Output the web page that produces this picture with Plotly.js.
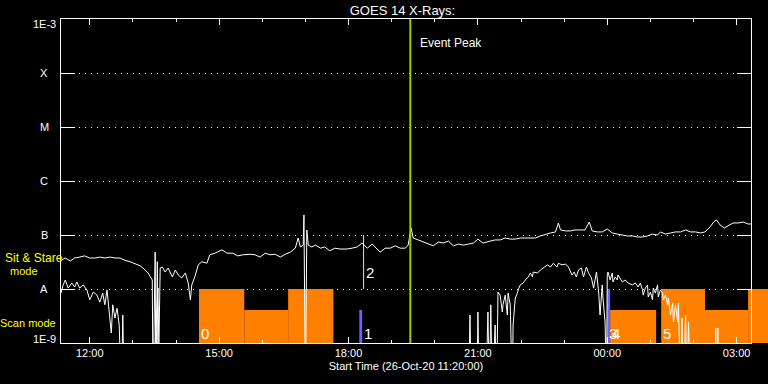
<!DOCTYPE html>
<html><head><meta charset="utf-8">
<script src="https://cdn.plot.ly/plotly-3.0.1.min.js"></script>
<style>html,body{margin:0;padding:0;background:#000;} #chart{width:768px;height:384px;}</style>
</head><body><div id="chart"></div>
<script>
// time axis: minutes after 26-Oct-2020 11:20:00
const START = Date.UTC(2020, 9, 26, 11, 20);
const RANGE_MIN = [0, 960];

// GOES 14 long channel (1-8 A), W/m^2
const longT = [0,6,13,19,26,33,40,47,54,61,68,75,82,89,96,103,110,117,121,127,128,131,132,134,135,138,141,145,149,155,159,163,168,173,177,180,182,187,191,196,203,207,214,224,231,239,246,253,263,270,277,284,291,298,305,312,319,326,330,333,337,338,340,342,344,349,354,361,367,374,381,388,398,405,412,419,426,433,440,444,451,458,465,472,479,483,487,490,497,504,511,518,525,532,539,546,553,560,567,574,580,587,597,604,611,618,625,632,639,646,653,660,667,674,681,688,692,695,702,709,715,722,729,735,739,746,753,760,767,774,781,788,795,802,809,816,823,830,834,841,848,855,862,869,876,883,890,896,903,908,912,917,923,928,935,942,949,956,960];
const longF = [3.4e-8,3.75e-8,3.3e-8,3.75e-8,3.9e-8,4.1e-8,3.75e-8,3.75e-8,3.9e-8,3.75e-8,3.9e-8,3.75e-8,3.75e-8,3.4e-8,3.2e-8,2.9e-8,2.7e-8,2.25e-8,1.98e-8,1.47e-8,1e-10,4.8e-8,1e-10,3.2e-8,1e-10,2.45e-8,2.55e-8,2.06e-8,2.45e-8,1.67e-8,2.25e-8,1.82e-8,1.6e-8,1.98e-8,1.29e-8,6.3e-9,1.19e-8,1.82e-8,2.8e-8,3.2e-8,3.0e-8,4.3e-8,4.6e-8,5.3e-8,4.6e-8,4.6e-8,4.1e-8,4.3e-8,4.4e-8,4.3e-8,3.9e-8,4.6e-8,4.3e-8,4.4e-8,3.9e-8,4.4e-8,4.8e-8,5.7e-8,8.8e-8,6.0e-8,6.5e-8,2.35e-7,1e-10,1.24e-7,6.5e-8,6.0e-8,6.5e-8,5.7e-8,6.0e-8,5.1e-8,5.7e-8,5.5e-8,5.5e-8,5.7e-8,6.0e-8,7.1e-8,5.7e-8,6.8e-8,5.3e-8,4.8e-8,5.7e-8,5.7e-8,6.3e-8,5.7e-8,5.7e-8,6.5e-8,1.35e-7,8.8e-8,8.1e-8,7.4e-8,6.8e-8,6.3e-8,7.4e-8,7.1e-8,7.7e-8,6.3e-8,6.8e-8,6.5e-8,6.8e-8,7.1e-8,8.4e-8,7.1e-8,7.7e-8,8.1e-8,8.1e-8,8.8e-8,8.4e-8,8.4e-8,8.8e-8,8.8e-8,8.8e-8,8.8e-8,9.6e-8,1.04e-7,1.09e-7,1.14e-7,1.67e-7,1.24e-7,1.19e-7,1.19e-7,1.24e-7,1.24e-7,1.24e-7,1.74e-7,1.19e-7,1.14e-7,1.14e-7,1.29e-7,1.09e-7,1.04e-7,1.0e-7,9.6e-8,9.6e-8,9.2e-8,9.2e-8,9.6e-8,1.04e-7,1.0e-7,1.14e-7,1.04e-7,1.09e-7,1.14e-7,1.14e-7,1.24e-7,1.14e-7,1.14e-7,1.09e-7,1.14e-7,1.41e-7,1.74e-7,1.9e-7,1.53e-7,1.35e-7,1.47e-7,1.67e-7,1.67e-7,1.74e-7,1.6e-7,1.6e-7];

// GOES 14 short channel (0.5-4 A), W/m^2 (1e-10 = below plot floor)
const shortT = [0,3,6,10,15,19,22,26,31,36,40,45,50,54,58,61,64,67,70,72,75,78,81,84,86,88,127,135,137,567,569,571,579,580,582,591,594,596,598,600,604,606,608,611,614,615,618,621,622,625,628,629,632,635,636,639,643,646,650,653,656,657,663,667,671,677,681,685,690,692,697,702,706,711,714,717,720,724,727,731,734,738,741,745,748,750,753,754,757,759,760,761,764,767,768,771,774,775,781,785,789,795,799,803,806,809,810,813,816,817,820,823,824,827,830,831,834,837,838,841,844,845,848,851,852,855,858,859,862,864,866,869,871,873,876,909,911,912,914,915,960];
const shortF = [8.4e-9,1.19e-8,1.47e-8,1.04e-8,1.29e-8,1.09e-8,1.35e-8,1.04e-8,1.19e-8,9.6e-9,6.3e-9,8.8e-9,7.7e-9,5.7e-9,8.4e-9,5.1e-9,9.6e-9,3.3e-9,1.53e-9,5.1e-9,2.9e-9,4.4e-9,2.15e-9,1e-10,3.3e-9,1e-10,1e-10,1.04e-8,1e-10,1e-10,3.3e-9,1e-10,1e-10,3.75e-9,1e-10,1e-10,3.75e-9,1e-10,5.1e-9,1e-10,2.15e-9,1e-10,8.8e-9,7.7e-9,3.75e-9,5.1e-9,7.7e-9,3.3e-9,8.4e-9,5.1e-9,1e-10,2.15e-9,6.8e-9,8.4e-9,9.6e-9,1.19e-8,1.29e-8,1.47e-8,1.67e-8,1.98e-8,1.67e-8,2.06e-8,1.98e-8,2.25e-8,2.45e-8,2.8e-8,2.55e-8,3.0e-8,2.55e-8,3.0e-8,2.8e-8,2.9e-8,2.55e-8,1.82e-8,2.06e-8,1.67e-8,2.25e-8,2.45e-8,1.67e-8,2.55e-8,1.98e-8,1.6e-8,1.04e-8,2.06e-8,8.8e-9,3.3e-9,1.19e-8,6.8e-9,2.45e-9,1e-10,1.82e-8,2.06e-8,1.47e-8,1.98e-8,1.35e-8,1.67e-8,1.47e-8,1.82e-8,1.35e-8,1.47e-8,1.29e-8,1.19e-8,1.29e-8,1.09e-8,1.29e-8,9.6e-9,7.7e-9,1.04e-8,1.19e-8,7.1e-9,8.8e-9,6.3e-9,1.04e-8,8.4e-9,1.19e-8,7.1e-9,9.6e-9,8.4e-9,6.3e-9,7.7e-9,5.1e-9,6.8e-9,3.3e-9,5.5e-9,2.45e-9,5.1e-9,2.45e-9,5.5e-9,1e-10,2.9e-9,1e-10,3.3e-9,1e-10,2.45e-9,1e-10,1e-10,1.9e-9,1e-10,1.9e-9,1e-10,1e-10];

// scan mode blocks (minutes), their top level
const scanStart = [192, 255, 316, 764, 835, 896, 956];
const scanEnd   = [255, 316, 379, 828, 896, 956, 984];
const scanTop   = [1e-8, 4.1e-9, 1e-8, 4.1e-9, 1e-8, 4.1e-9, 1e-8];
// blue markers
const blueStart = [415, 760];
const blueEnd   = [419, 764];
const blueTop   = [4.1e-9, 1e-8];
// event peak and event 2 marker
const peakT = 486;
const event2T = 421;
const event2Span = [1e-8, 1e-7];
// event number labels
const eventLabels = ['0', '1', '2', '3', '4', '5'];
const eventLabelT = [192, 419, 421, 760, 764, 835];
const eventLabelF = [1.53e-9, 1.53e-9, 2.06e-8, 1.53e-9, 1.53e-9, 1.53e-9];
// y axis levels
const yTickVals = [1e-9, 1e-8, 1e-7, 1e-6, 1e-5, 1e-4, 1e-3];
const yTickText = ['1E-9', 'A', 'B', 'C', 'M', 'X', '1E-3'];

const fmt = m => new Date(START + m * 60000).toISOString().slice(0, 19).replace('T', ' ');
const FONT = 'Liberation Sans, Arial, sans-serif';
const ORANGE = '#ff8000', BLUE = '#6464ff', GREEN = '#99cc00', YELLOW = '#ffff00';

const traces = [];
for (let i = 0; i < scanStart.length; i++) {
  const a = fmt(scanStart[i]), b = fmt(scanEnd[i]);
  traces.push({x: [a, b, b, a, a], y: [1e-9, 1e-9, scanTop[i], scanTop[i], 1e-9],
    mode: 'lines', fill: 'toself', fillcolor: ORANGE, line: {width: 0, color: ORANGE}, hoverinfo: 'skip'});
}
for (let i = 0; i < blueStart.length; i++) {
  const a = fmt(blueStart[i]), b = fmt(blueEnd[i]);
  traces.push({x: [a, b, b, a, a], y: [1e-9, 1e-9, blueTop[i], blueTop[i], 1e-9],
    mode: 'lines', fill: 'toself', fillcolor: BLUE, line: {width: 0, color: BLUE}, hoverinfo: 'skip'});
}
traces.push({x: [fmt(event2T), fmt(event2T)], y: event2Span, mode: 'lines', line: {color: YELLOW, width: 1}});
traces.push({x: longT.map(fmt), y: longF, mode: 'lines', line: {color: '#fff', width: 1}});
traces.push({x: shortT.map(fmt), y: shortF, mode: 'lines', line: {color: '#fff', width: 1}});
traces.push({x: [fmt(peakT), fmt(peakT)], y: [1e-9, 1e-3], mode: 'lines', line: {color: GREEN, width: 2}});

// part of a scan block that runs past the right edge of the axis
const span = RANGE_MIN[1] - RANGE_MIN[0];
const shapes = [];
for (let i = 0; i < scanStart.length; i++) {
  if (scanEnd[i] > RANGE_MIN[1]) {
    shapes.push({type: 'rect', layer: 'below', xref: 'paper', yref: 'y',
      x0: (Math.max(scanStart[i], RANGE_MIN[1]) - RANGE_MIN[0]) / span,
      x1: (scanEnd[i] - RANGE_MIN[0]) / span,
      y0: 1e-9, y1: scanTop[i], fillcolor: ORANGE, line: {width: 0}});
  }
}

const annotations = [];
yTickVals.forEach((v, i) => {
  const last = yTickVals.length - 1;
  annotations.push({xref: 'paper', yref: 'y', x: -0.0246, y: Math.log10(v), text: yTickText[i],
    xanchor: 'center', yanchor: i === 0 ? 'bottom' : (i === last ? 'top' : 'middle'),
    yshift: i === 0 ? -4 : (i === last ? 3 : 0),
    showarrow: false, font: {family: FONT, size: 11, color: '#fff'}});
});
eventLabels.forEach((s, i) => {
  annotations.push({xref: 'x', yref: 'y', x: fmt(eventLabelT[i]), y: Math.log10(eventLabelF[i]), text: s,
    xanchor: 'left', yanchor: 'middle', showarrow: false, font: {family: FONT, size: 15, color: '#fff'}});
});
annotations.push({xref: 'x', yref: 'paper', x: fmt(peakT), y: 0.926, xanchor: 'left', xshift: 8, yanchor: 'middle',
  text: 'Event Peak', showarrow: false, font: {family: FONT, size: 12, color: '#fff'}});
annotations.push({xref: 'paper', yref: 'paper', x: -0.0391, y: 0.261, xanchor: 'center', yanchor: 'middle',
  text: 'Sit &amp; Stare', showarrow: false, font: {family: FONT, size: 12, color: YELLOW}});
annotations.push({xref: 'paper', yref: 'paper', x: -0.0532, y: 0.222, xanchor: 'center', yanchor: 'middle',
  text: 'mode', showarrow: false, font: {family: FONT, size: 11, color: YELLOW}});
annotations.push({xref: 'paper', yref: 'paper', x: -0.0474, y: 0.062, xanchor: 'center', yanchor: 'middle',
  text: 'Scan mode', showarrow: false, font: {family: FONT, size: 11, color: YELLOW}});

const layout = {
  width: 768, height: 384,
  margin: {l: 61, r: 17, t: 19, b: 41, pad: 0},
  paper_bgcolor: '#000', plot_bgcolor: '#000',
  font: {family: FONT, color: '#fff', size: 11},
  showlegend: false,
  title: {text: 'GOES 14 X-Rays:', x: 402.5 / 768, xref: 'container', xanchor: 'center',
    y: 1 - 10 / 384, yref: 'container', yanchor: 'middle', font: {family: FONT, size: 13, color: '#fff'}},
  xaxis: {type: 'date', range: [fmt(RANGE_MIN[0]), fmt(RANGE_MIN[1])],
    showline: true, linecolor: '#fff', linewidth: 1, mirror: 'ticks',
    ticks: 'inside', ticklen: 6, tickwidth: 1, tickcolor: '#fff',
    dtick: 3 * 3600000, tick0: '2020-10-26 00:00:00', tickformat: '%H:%M',
    tickfont: {family: FONT, size: 11, color: '#fff'},
    showgrid: false, zeroline: false,
    minor: {dtick: 3600000, tick0: '2020-10-26 00:00:00', ticks: 'inside', ticklen: 3, tickwidth: 1, tickcolor: '#fff', showgrid: false},
    title: {text: 'Start Time (26-Oct-20 11:20:00)', font: {family: FONT, size: 11, color: '#fff'}, standoff: 4}},
  yaxis: {type: 'log', range: [-9, -3], tickmode: 'array', tickvals: yTickVals, showticklabels: false,
    ticks: 'inside', ticklen: 14, tickwidth: 1, tickcolor: '#fff',
    showline: true, linecolor: '#fff', linewidth: 1, mirror: 'ticks',
    showgrid: true, gridcolor: '#fff', gridwidth: 1, griddash: '1px,5px', zeroline: false},
  shapes: shapes,
  annotations: annotations
};

Plotly.newPlot('chart', traces, layout, {displayModeBar: false, staticPlot: true});
</script>
</body></html>
